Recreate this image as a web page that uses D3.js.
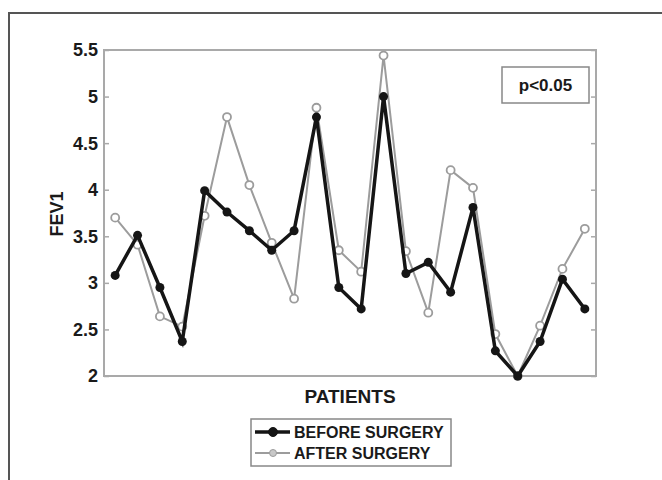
<!DOCTYPE html>
<html>
<head>
<meta charset="utf-8">
<script src="https://cdn.jsdelivr.net/npm/d3@7"></script>
<style>
  body { margin: 0; background: #fff; }
  svg { display: block; }
  text { font-family: "Liberation Sans", Arial, sans-serif; font-weight: bold; fill: #1a1a1a; }
</style>
</head>
<body>
<script>
// FEV1 per patient, before / after surgery
var patients = d3.range(1, 23);
var before = [3.08, 3.51, 2.95, 2.37, 3.99, 3.76, 3.56, 3.35, 3.56, 4.78, 2.95,
              2.72, 5.00, 3.10, 3.22, 2.90, 3.81, 2.27, 2.00, 2.37, 3.04, 2.72];
var after  = [3.70, 3.41, 2.64, 2.53, 3.72, 4.78, 4.05, 3.43, 2.83, 4.88, 3.35,
              3.12, 5.44, 3.34, 2.68, 4.21, 4.02, 2.45, 2.00, 2.54, 3.15, 3.58];
var yTicks = [2, 2.5, 3, 3.5, 4, 4.5, 5, 5.5];
var seriesNames = ['BEFORE SURGERY', 'AFTER SURGERY'];

var W = 662, H = 480;
var svg = d3.select('body').append('svg').attr('width', W).attr('height', H);

// outer frame (cut off on right/bottom like the source figure)
svg.append('path')
    .attr('d', 'M9,' + (H + 5) + 'V13H' + (W + 5))
    .attr('fill', 'none').attr('stroke', '#555').attr('stroke-width', 2);

// plot area (don't use "top" - clashes with window.top)
var pL = 104, pR = 596, pT = 50, pB = 376;
var x = d3.scaleLinear().domain([0.5, 22.5]).range([pL, pR]);
var y = d3.scaleLinear().domain([2, 5.5]).range([pB, pT]);

var axisColor = '#a9a9a9';

// inward ticks on both sides
var yAxisL = svg.append('g').attr('transform', 'translate(' + pL + ',0)')
    .call(d3.axisRight(y).tickValues(yTicks).tickSize(5).tickFormat(''));
yAxisL.select('.domain').remove();
yAxisL.selectAll('line').attr('stroke', axisColor).attr('stroke-width', 1.5);

var yAxisR = svg.append('g').attr('transform', 'translate(' + pR + ',0)')
    .call(d3.axisLeft(y).tickValues(yTicks).tickSize(5).tickFormat(''));
yAxisR.select('.domain').remove();
yAxisR.selectAll('line').attr('stroke', axisColor).attr('stroke-width', 1.5);

// tick labels
svg.append('g').selectAll('text').data(yTicks).join('text')
    .attr('x', pL - 6).attr('y', function(d) { return y(d); })
    .attr('dy', '0.36em').attr('text-anchor', 'end')
    .style('font-size', '18px')
    .text(function(d) { return d; });

// plot box
svg.append('rect')
    .attr('x', pL).attr('y', pT).attr('width', pR - pL).attr('height', pB - pT)
    .attr('fill', 'none').attr('stroke', axisColor).attr('stroke-width', 2);

// axis titles
svg.append('text').attr('transform', 'translate(63,214) rotate(-90)')
    .attr('text-anchor', 'middle').style('font-size', '18px').text('FEV1');
svg.append('text').attr('x', 350).attr('y', 403)
    .attr('text-anchor', 'middle').style('font-size', '19px').text('PATIENTS');

// p-value box
svg.append('rect').attr('x', 502).attr('y', 67).attr('width', 87).attr('height', 36)
    .attr('fill', '#fff').attr('stroke', '#888').attr('stroke-width', 1.5);
svg.append('text').attr('x', 545.5).attr('y', 91).attr('text-anchor', 'middle')
    .style('font-size', '17px').text('p<0.05');

var line = d3.line()
    .x(function(d, i) { return x(patients[i]); })
    .y(function(d) { return y(d); });

var grey = '#9c9c9c', black = '#151515';

// after surgery (grey, open circles)
svg.append('path').datum(after).attr('d', line)
    .attr('fill', 'none').attr('stroke', grey).attr('stroke-width', 2);
svg.append('g').selectAll('circle').data(after).join('circle')
    .attr('cx', function(d, i) { return x(patients[i]); })
    .attr('cy', function(d) { return y(d); })
    .attr('r', 4).attr('fill', '#fff').attr('stroke', grey).attr('stroke-width', 1.8);

// before surgery (black, filled)
svg.append('path').datum(before).attr('d', line)
    .attr('fill', 'none').attr('stroke', black).attr('stroke-width', 3.5);
svg.append('g').selectAll('circle').data(before).join('circle')
    .attr('cx', function(d, i) { return x(patients[i]); })
    .attr('cy', function(d) { return y(d); })
    .attr('r', 4.5).attr('fill', black);

// legend
var lg = svg.append('g');
lg.append('rect').attr('x', 251).attr('y', 419).attr('width', 200).attr('height', 47)
    .attr('fill', '#fff').attr('stroke', '#888').attr('stroke-width', 1.5);
var legendStyle = [
    { color: black, width: 3.5, r: 4.5, fill: black },
    { color: grey, width: 2, r: 3.5, fill: '#c8c8c8' }
];
seriesNames.forEach(function(name, i) {
    var ly = 432 + i * 21;
    var s = legendStyle[i];
    lg.append('line').attr('x1', 255).attr('x2', 290).attr('y1', ly).attr('y2', ly)
        .attr('stroke', s.color).attr('stroke-width', s.width);
    lg.append('circle').attr('cx', 273).attr('cy', ly).attr('r', s.r)
        .attr('fill', s.fill).attr('stroke', s.color).attr('stroke-width', 1);
    lg.append('text').attr('x', 294).attr('y', ly).attr('dy', '0.36em')
        .style('font-size', '16px').text(name);
});
</script>
</body>
</html>
